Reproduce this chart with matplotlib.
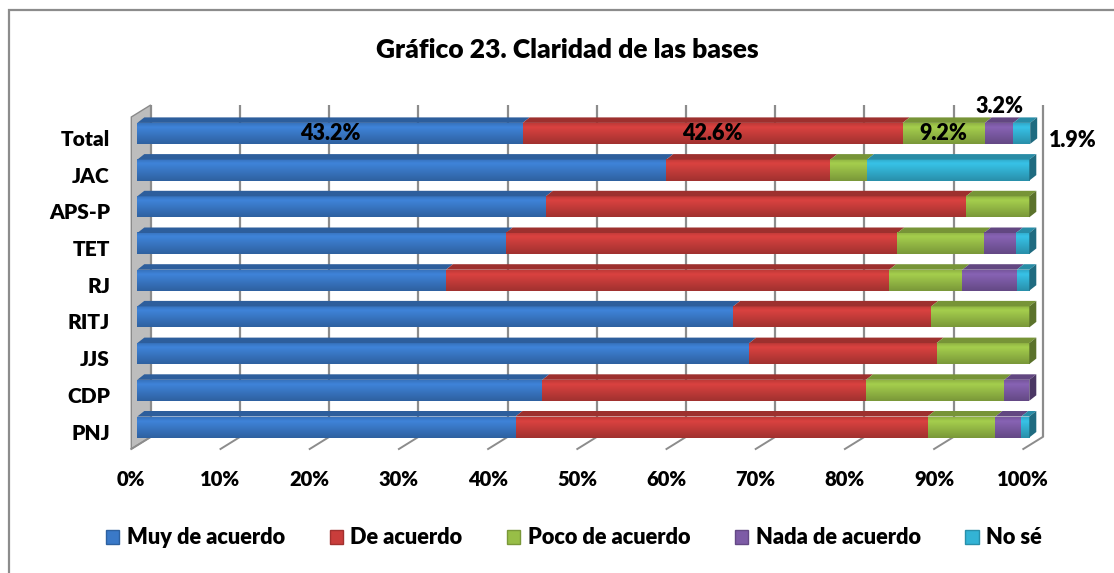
import numpy as np
import matplotlib
matplotlib.use("Agg")
import matplotlib.pyplot as plt
from matplotlib.patches import Polygon, Patch, Rectangle
from matplotlib.colors import to_rgb

plt.rcParams['font.family'] = ['Lato', 'DejaVu Sans']

# ---------------- data ----------------
categories = ["Total", "JAC", "APS-P", "TET", "RJ", "RITJ", "JJS", "CDP", "PNJ"]
muy_de_acuerdo = [43.2, 59.3, 45.8, 41.3, 34.6, 66.8, 68.6, 45.4, 42.4]
de_acuerdo     = [42.6, 18.4, 47.1, 43.9, 49.7, 22.2, 21.0, 36.3, 46.2]
poco_acuerdo   = [9.2, 4.1, 7.1, 9.7, 8.2, 11.0, 10.4, 15.5, 7.6]
nada_acuerdo   = [3.2, 0.0, 0.0, 3.6, 6.1, 0.0, 0.0, 2.8, 2.9]
no_se          = [1.9, 18.2, 0.0, 1.5, 1.4, 0.0, 0.0, 0.0, 0.9]
series_names = ["Muy de acuerdo", "De acuerdo", "Poco de acuerdo", "Nada de acuerdo", "No sé"]
tick_values = [0, 10, 20, 30, 40, 50, 60, 70, 80, 90, 100]
title = "Gráfico 23. Claridad de las bases"

colors = ["#3A79C8", "#C93D3B", "#98BE47", "#7D5BA6", "#33B3D5"]
FW = "heavy"

# ---------------- figure ----------------
W, H = 1114, 573
fig = plt.figure(figsize=(W / 100, H / 100), dpi=100)
fig.patch.set_facecolor("white")

# outer border
fig.add_artist(Rectangle((9 / W, -0.05), 1.2, (H - 10) / H + 0.05, transform=fig.transFigure,
                         fill=False, edgecolor="#8C8C8C", lw=1.6))

ax = fig.add_axes([137.3 / W, (H - 445.35) / H, 892 / W, 330.3 / H])
ax.set_xlim(0, 100)
ax.set_ylim(-0.5, 8.5)
ax.axis("off")

px_x = 100 / 892.0      # data units per pixel (x)
px_y = 1 / 36.7         # data units per pixel (y)

n = len(categories)
ypos = np.arange(n)[::-1]  # Total at top

# walls / gridlines
front_dx = -6 * px_x
back_dx = 13.4 * px_x
y_front_bot = (427 - 449) * px_y
y_back_bot = (427 - 437) * px_y
y_front_top = (427 - 117) * px_y
y_back_top = (427 - 105) * px_y

wall = Polygon([(front_dx, y_front_bot), (front_dx, y_front_top),
                (back_dx, y_back_top), (back_dx, y_back_bot)],
               closed=True, facecolor="#BDBDBD", edgecolor="#8A8A8A", lw=1.0, clip_on=False, zorder=1)
ax.add_patch(wall)

for t in tick_values:
    ax.plot([t + back_dx, t + back_dx], [y_back_bot, y_back_top], color="#8C8C8C", lw=1.6,
            clip_on=False, zorder=1, solid_capstyle="butt")
    ax.plot([t + front_dx, t + back_dx], [y_front_bot, y_back_bot], color="#8C8C8C", lw=1.4,
            clip_on=False, zorder=1)
    ax.text(t + front_dx, (427 - 479) * px_y, f"{t}%", ha="center", va="center",
            fontsize=14.5, fontweight=FW, color="black")

# bars
bar_h = 21 * px_y
ddx = 7 * px_x
ddy = 5.5 * px_y

def shade(c, f):
    r, g, b = to_rgb(c)
    return (min(r * f, 1), min(g * f, 1), min(b * f, 1))

grad = np.concatenate([np.linspace(0.95, 1.08, 8), np.linspace(1.08, 0.80, 32)])

data = np.array([muy_de_acuerdo, de_acuerdo, poco_acuerdo, nada_acuerdo, no_se])

for i in range(n):
    y = ypos[i]
    vals = data[:, i]
    left = 0.0
    nonzero = [k for k in range(len(vals)) if vals[k] > 0]
    last = nonzero[-1]
    for k in range(len(vals)):
        v = vals[k]
        if v <= 0:
            continue
        x0, x1 = left, left + v
        c = colors[k]
        rgb = np.array(to_rgb(c))
        img = np.clip(grad[:, None, None] * rgb[None, None, :], 0, 1)
        ax.imshow(img, extent=(x0, x1, y - bar_h / 2, y + bar_h / 2), aspect="auto",
                  origin="upper", interpolation="bilinear", zorder=3, clip_on=False)
        yt = y + bar_h / 2
        top = Polygon([(x0, yt), (x1, yt), (x1 + ddx, yt + ddy), (x0 + ddx, yt + ddy)],
                      closed=True, facecolor=shade(c, 0.78), edgecolor="none", zorder=3, clip_on=False)
        ax.add_patch(top)
        if k == last:
            yb = y - bar_h / 2
            side = Polygon([(x1, yb), (x1, yt), (x1 + ddx, yt + ddy), (x1 + ddx, yb + ddy)],
                           closed=True, facecolor=shade(c, 0.6), edgecolor="none", zorder=3, clip_on=False)
            ax.add_patch(side)
        left = x1
    ax.text(-3.06, y - 6 * px_y, categories[i], ha="right", va="center",
            fontsize=15, fontweight=FW, color="black")

ax.set_xlim(0, 100)
ax.set_ylim(-0.5, 8.5)

# data labels for Total
yT = ypos[0]
cum = np.cumsum(data[:, 0])
starts = cum - data[:, 0]
for k in range(3):
    ax.text(starts[k] + data[k, 0] / 2, yT, f"{data[k, 0]:.1f}%", ha="center", va="center",
            fontsize=15.5, fontweight=FW, color="black", zorder=5)
ax.text(starts[3] + data[3, 0] / 2, yT + 26.5 * px_y, f"{data[3, 0]:.1f}%", ha="center", va="center",
        fontsize=15.5, fontweight=FW, color="black", zorder=5)
ax.text(100 + 43 * px_x, yT - 7.5 * px_y, f"{data[4, 0]:.1f}%", ha="center", va="center",
        fontsize=15.5, fontweight=FW, color="black", zorder=5)

# title
fig.text(567 / W, (H - 50) / H, title, ha="center", va="center", fontsize=19, fontweight=FW)

# legend
handles = [Patch(facecolor=c, edgecolor=shade(c, 0.8)) for c in colors]
fig.legend(handles, series_names, loc="center", bbox_to_anchor=(574 / W, (H - 538) / H), ncol=5,
           frameon=False, handlelength=0.6, handleheight=0.6, handletextpad=0.35,
           columnspacing=2.05, prop={"size": 15.7, "weight": FW})

fig.savefig("out.png", dpi=100)
